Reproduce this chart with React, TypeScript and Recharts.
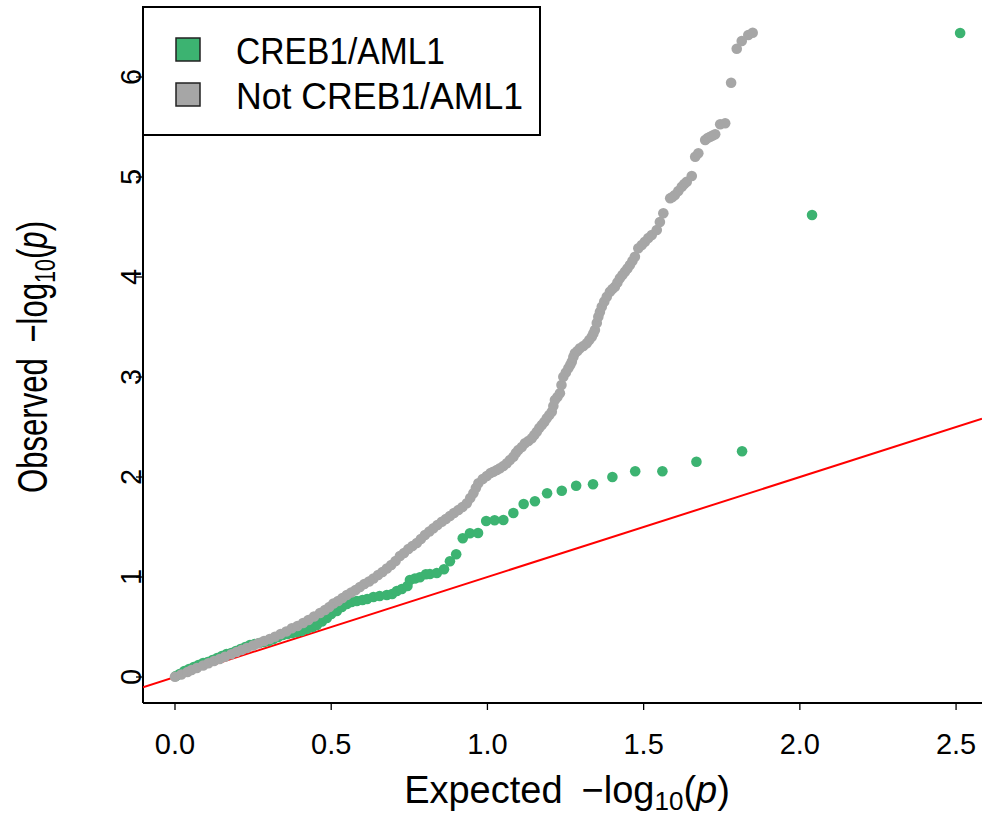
import React from 'react';
import { ScatterChart, Scatter, XAxis, YAxis } from 'recharts';

const creebPoints: [number, number][] = [
  [0.003, 0.01], [0.015, 0.03], [0.03, 0.06], [0.045, 0.08], [0.06, 0.1], [0.075, 0.12],
  [0.09, 0.14], [0.105, 0.15], [0.12, 0.17], [0.135, 0.19], [0.15, 0.21], [0.165, 0.23],
  [0.18, 0.24], [0.195, 0.26], [0.21, 0.28], [0.225, 0.3], [0.24, 0.32], [0.255, 0.33],
  [0.27, 0.34], [0.285, 0.35], [0.3, 0.36], [0.315, 0.38], [0.33, 0.4], [0.345, 0.42],
  [0.36, 0.43], [0.375, 0.44], [0.39, 0.45], [0.405, 0.46], [0.422, 0.48], [0.44, 0.5],
  [0.454, 0.52], [0.47, 0.555], [0.486, 0.59], [0.5, 0.63], [0.518, 0.66], [0.534, 0.7],
  [0.55, 0.73], [0.565, 0.75], [0.582, 0.76], [0.6, 0.77], [0.615, 0.78], [0.635, 0.8],
  [0.655, 0.81], [0.678, 0.82], [0.695, 0.83], [0.71, 0.86], [0.726, 0.88], [0.744, 0.91],
  [0.752, 0.97], [0.768, 0.985], [0.784, 0.997], [0.803, 1.027], [0.816, 1.03], [0.838, 1.04],
  [0.861, 1.077], [0.88, 1.157], [0.9, 1.227], [0.921, 1.387], [0.944, 1.437], [0.97, 1.44],
  [0.996, 1.56], [1.023, 1.567], [1.051, 1.57], [1.083, 1.64], [1.116, 1.73], [1.152, 1.757],
  [1.191, 1.837], [1.238, 1.863], [1.284, 1.913], [1.338, 1.927], [1.4, 2.0], [1.473, 2.057],
  [1.56, 2.057], [1.669, 2.153], [1.815, 2.257], [2.039, 4.62], [2.513, 6.44],
];

const otherPoints: [number, number][] = [
  [0.0, 0.003], [0.02, 0.025], [0.04, 0.05], [0.053, 0.07], [0.07, 0.09], [0.09, 0.115],
  [0.107, 0.137], [0.125, 0.16], [0.143, 0.18], [0.16, 0.203], [0.18, 0.228], [0.197, 0.25],
  [0.213, 0.27], [0.23, 0.29], [0.25, 0.315], [0.267, 0.337], [0.285, 0.36], [0.303, 0.38],
  [0.32, 0.403], [0.338, 0.43], [0.356, 0.455], [0.374, 0.487], [0.392, 0.51], [0.41, 0.54],
  [0.427, 0.57], [0.445, 0.605], [0.464, 0.64], [0.48, 0.67], [0.494, 0.7], [0.507, 0.735],
  [0.522, 0.76], [0.536, 0.79], [0.55, 0.82], [0.564, 0.845], [0.578, 0.87], [0.592, 0.9],
  [0.606, 0.93], [0.621, 0.955], [0.635, 0.985], [0.65, 1.02], [0.664, 1.05], [0.678, 1.085],
  [0.692, 1.12], [0.706, 1.16], [0.72, 1.21], [0.733, 1.24], [0.747, 1.28], [0.76, 1.31],
  [0.774, 1.34], [0.787, 1.38], [0.8, 1.42], [0.814, 1.455], [0.827, 1.487], [0.84, 1.52],
  [0.854, 1.553], [0.867, 1.58], [0.88, 1.61], [0.893, 1.64], [0.907, 1.67], [0.92, 1.7],
  [0.934, 1.737], [0.945, 1.79], [0.955, 1.837], [0.963, 1.89], [0.971, 1.937], [0.985, 1.98],
  [0.998, 2.01], [1.01, 2.04], [1.019, 2.053], [1.03, 2.07], [1.04, 2.087], [1.051, 2.11],
  [1.062, 2.137], [1.072, 2.17], [1.083, 2.203], [1.091, 2.24], [1.099, 2.27], [1.11, 2.3],
  [1.12, 2.337], [1.131, 2.36], [1.142, 2.387], [1.15, 2.42], [1.158, 2.453], [1.166, 2.49],
  [1.174, 2.52], [1.182, 2.55], [1.19, 2.587], [1.198, 2.62], [1.206, 2.653], [1.211, 2.71],
  [1.216, 2.77], [1.224, 2.8], [1.232, 2.837], [1.237, 2.92], [1.243, 3.003], [1.251, 3.045],
  [1.259, 3.087], [1.265, 3.12], [1.27, 3.153], [1.275, 3.2], [1.28, 3.237], [1.288, 3.26],
  [1.296, 3.287], [1.307, 3.31], [1.318, 3.337], [1.326, 3.37], [1.334, 3.403], [1.339, 3.435],
  [1.344, 3.47], [1.35, 3.54], [1.355, 3.603], [1.36, 3.65], [1.366, 3.703], [1.374, 3.755],
  [1.382, 3.803], [1.392, 3.853], [1.4, 3.88], [1.408, 3.903], [1.416, 3.945], [1.424, 3.987],
  [1.432, 4.02], [1.44, 4.053], [1.448, 4.085], [1.456, 4.12], [1.464, 4.16], [1.472, 4.203],
  [1.483, 4.287], [1.494, 4.32], [1.504, 4.353], [1.515, 4.39], [1.526, 4.42], [1.542, 4.47],
  [1.552, 4.55], [1.563, 4.637], [1.585, 4.787], [1.592, 4.8], [1.6, 4.82], [1.611, 4.86],
  [1.622, 4.903], [1.63, 4.93], [1.638, 4.953], [1.654, 5.01], [1.665, 5.203], [1.675, 5.237],
  [1.697, 5.37], [1.705, 5.39], [1.713, 5.403], [1.721, 5.415], [1.729, 5.427], [1.745, 5.527],
  [1.761, 5.537], [1.78, 5.943], [1.798, 6.283], [1.814, 6.36], [1.835, 6.42], [1.849, 6.443],
];

const xTicks = [0, 0.5, 1, 1.5, 2, 2.5];
const yTicks = [0, 1, 2, 3, 4, 5, 6];

const X_MIN = -0.1024;
const X_MAX = 2.583;
const Y_MIN = -0.26;
const Y_MAX = 6.7;

const GREEN = '#3CB371';
const GREY = '#A6A6A6';
const FONT = '"Liberation Sans", Arial, Helvetica, sans-serif';

const toRows = (pts: [number, number][]) => pts.map(([x, y]) => ({ x, y }));
const diagonal = [{ x: X_MIN, y: X_MIN }, { x: X_MAX, y: X_MAX }];

const dot = (fill: string) => (props: any) =>
  <circle cx={props.cx} cy={props.cy} r={5.3} fill={fill} />;

const XTick = (props: any) => (
  <text x={props.x} y={754} textAnchor="middle" fontSize={29} fontFamily={FONT} fill="#000">
    {Number(props.payload.value).toFixed(1)}
  </text>
);

const YTick = (props: any) => (
  <text x={141} y={props.y} transform={`rotate(-90, 141, ${props.y})`} textAnchor="middle"
    fontSize={29} fontFamily={FONT} fill="#000">
    {props.payload.value}
  </text>
);

export default function App() {
  return (
    <div style={{ position: 'relative', width: 982, height: 817, background: '#fff' }}>
      <style>{'body{margin:0}'}</style>
      <ScatterChart width={982} height={817} margin={{ top: 7, right: 0, left: 0, bottom: 0 }}>
        <XAxis type="number" dataKey="x" domain={[X_MIN, X_MAX]} allowDataOverflow ticks={xTicks}
          height={114} tickSize={7} tick={<XTick />} interval={0}
          axisLine={{ stroke: '#000', strokeWidth: 2 }} tickLine={{ stroke: '#000', strokeWidth: 1.3 }} />
        <XAxis xAxisId="top" orientation="top" type="number" dataKey="x" domain={[X_MIN, X_MAX]}
          allowDataOverflow height={0} tick={false} tickLine={false}
          axisLine={{ stroke: '#000', strokeWidth: 2 }} />
        <YAxis type="number" dataKey="y" domain={[Y_MIN, Y_MAX]} allowDataOverflow ticks={yTicks}
          width={143} tickSize={7} tick={<YTick />} interval={0}
          axisLine={{ stroke: '#000', strokeWidth: 2 }} tickLine={{ stroke: '#000', strokeWidth: 1.3 }} />
        <Scatter data={diagonal} line={{ stroke: '#FF0000', strokeWidth: 2 }} shape={() => <g />}
          isAnimationActive={false} />
        <Scatter data={toRows(creebPoints)} shape={dot(GREEN)} isAnimationActive={false} />
        <Scatter data={toRows(otherPoints)} shape={dot(GREY)} isAnimationActive={false} />
      </ScatterChart>

      <svg width={982} height={817} style={{ position: 'absolute', left: 0, top: 0, pointerEvents: 'none' }}>
        <g fontFamily={FONT} fill="#000">
          <text x={567} y={803} textAnchor="middle" fontSize={38}>
            Expected{'\u2002\u2212'}log<tspan fontSize={26} dy={7}>10</tspan><tspan dy={-7}>(</tspan>
            <tspan fontStyle="italic">p</tspan>)
          </text>
          <text x={47} y={357} textAnchor="middle" fontSize={42} transform="rotate(-90, 47, 357)"
            textLength={272} lengthAdjust="spacingAndGlyphs">
            Observed{'\u2002\u2212'}log<tspan fontSize={29} dy={8}>10</tspan><tspan dy={-8}>(</tspan>
            <tspan fontStyle="italic">p</tspan>)
          </text>
        </g>
        <rect x={143} y={7} width={397} height={128} fill="#fff" stroke="#000" strokeWidth={2} />
        <rect x={176} y={38} width={24} height={23} fill={GREEN} stroke="#222" strokeWidth={1.5} />
        <rect x={176} y={83} width={24} height={23} fill={GREY} stroke="#222" strokeWidth={1.5} />
        <g fontFamily={FONT} fontSize={37} fill="#000">
          <text x={236} y={64} textLength={209} lengthAdjust="spacingAndGlyphs">CREB1/AML1</text>
          <text x={236} y={109} textLength={287} lengthAdjust="spacingAndGlyphs">Not CREB1/AML1</text>
        </g>
      </svg>
    </div>
  );
}
